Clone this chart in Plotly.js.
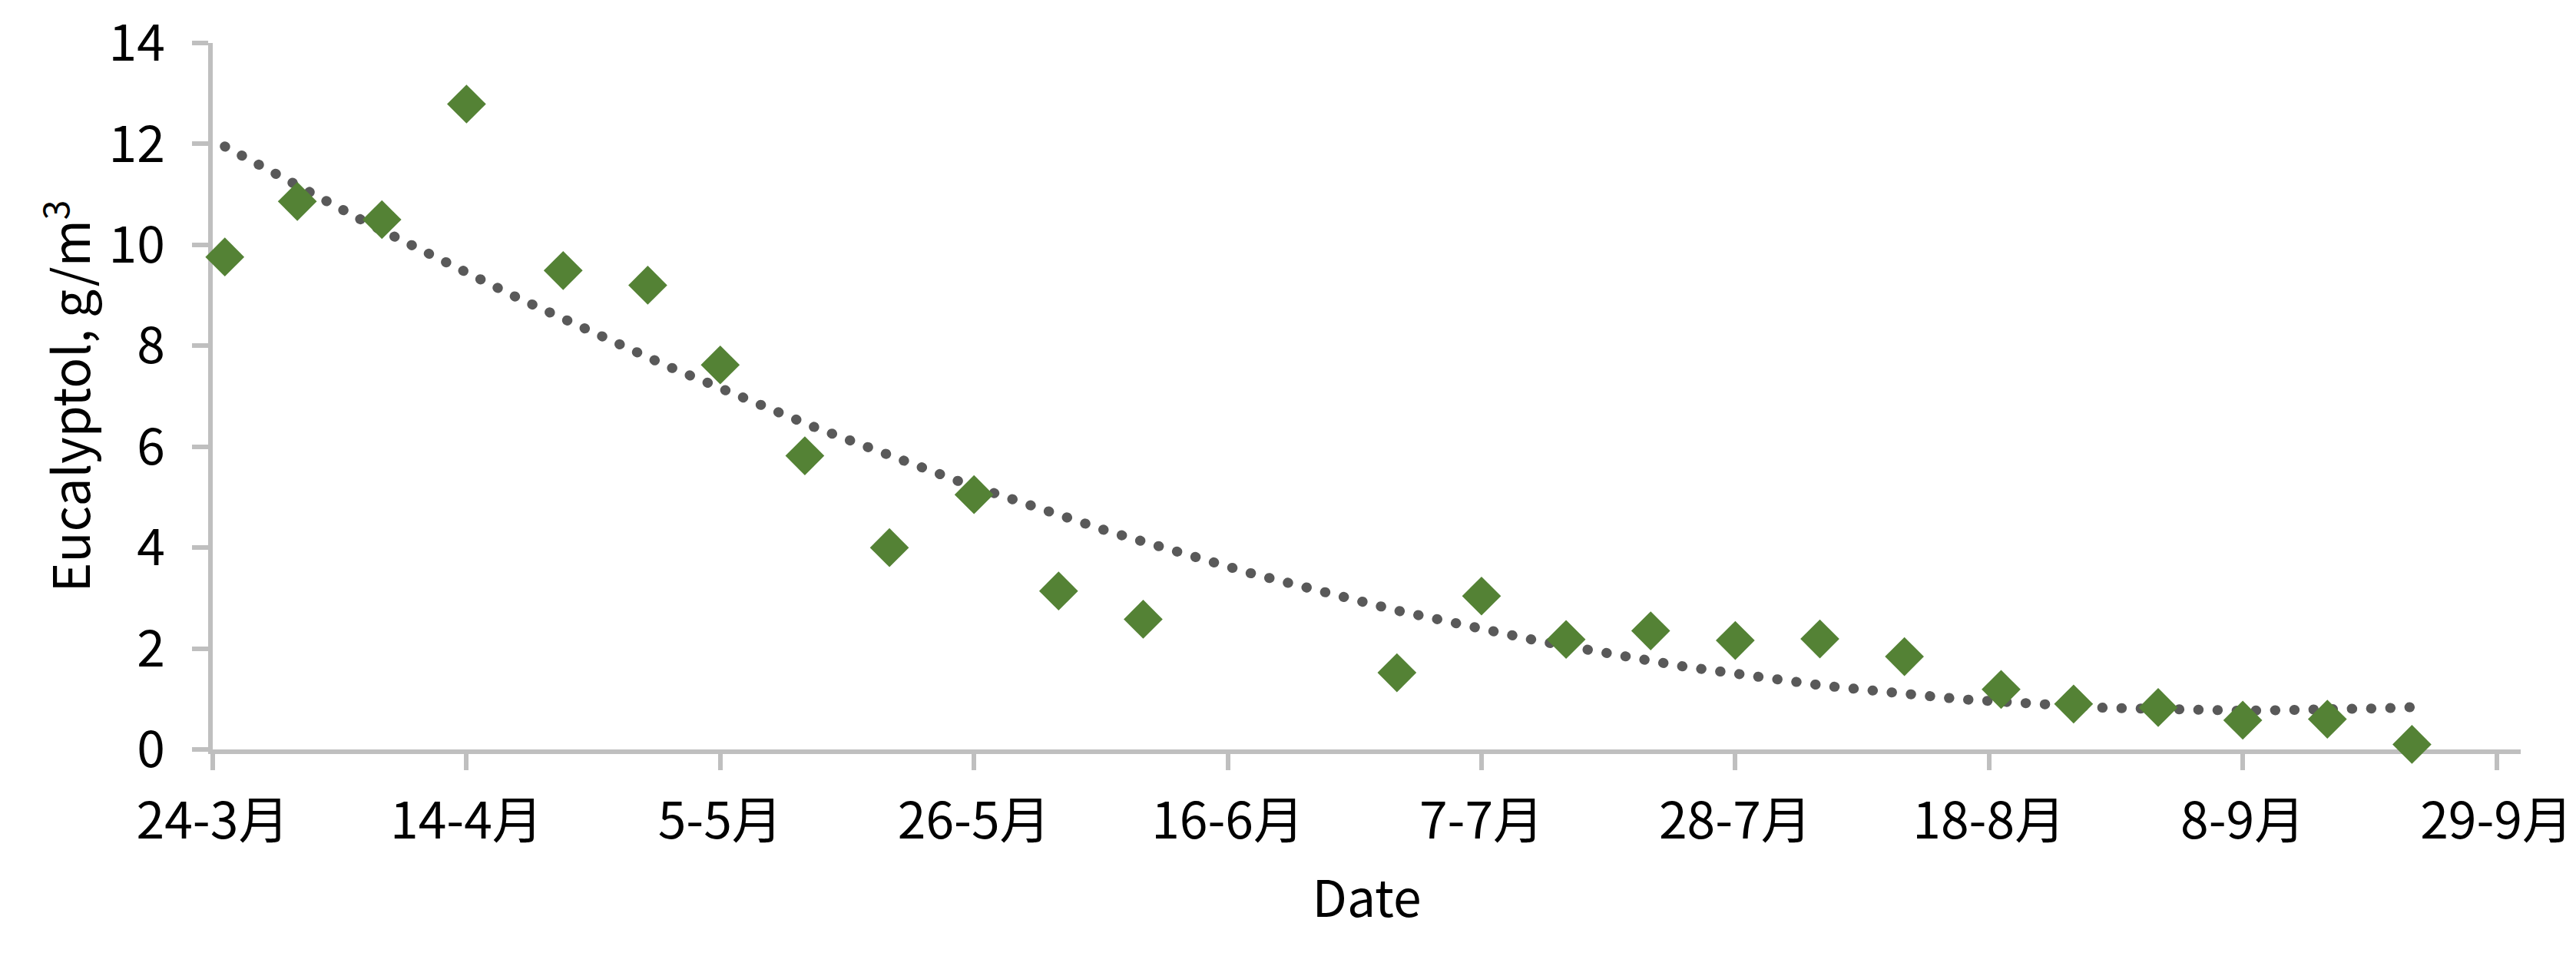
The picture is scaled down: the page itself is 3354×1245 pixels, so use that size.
<!DOCTYPE html>
<html>
<head>
<meta charset="utf-8">
<script src="https://cdn.plot.ly/plotly-3.0.1.min.js"></script>
<style>
  html, body { margin: 0; padding: 0; background: #ffffff; }
  #chart { width: 3354px; height: 1245px; }
  .trend .js-line { stroke-linecap: round !important; }
</style>
</head>
<body>
<div id="chart"></div>
<script>
// Sampling dates (2019) and measured eucalyptol concentration (g/m3)
const sampleDates = [
  '2019-03-25', '2019-03-31', '2019-04-07', '2019-04-14', '2019-04-22',
  '2019-04-29', '2019-05-05', '2019-05-12', '2019-05-19', '2019-05-26',
  '2019-06-02', '2019-06-09', '2019-06-30', '2019-07-07', '2019-07-14',
  '2019-07-21', '2019-07-28', '2019-08-04', '2019-08-11', '2019-08-19',
  '2019-08-25', '2019-09-01', '2019-09-08', '2019-09-15', '2019-09-22'
];
const eucalyptol = [
  9.76, 10.86, 10.50, 12.79, 9.49,
  9.20, 7.62, 5.82, 4.00, 5.05,
  3.14, 2.58, 1.52, 3.04, 2.18,
  2.35, 2.16, 2.19, 1.84, 1.19,
  0.90, 0.83, 0.58, 0.60, 0.10
];

// Axis settings
const xRange = ['2019-03-24', '2019-10-01'];
const xTick0 = '2019-03-24';
const xTickDays = 21;
const yRange = [0, 14];
const yTickStep = 2;

// Polynomial (order 2) trendline fitted to the data by least squares
const DAY = 86400000;
const t0 = Date.parse(sampleDates[0] + 'T00:00:00Z');
const tDays = sampleDates.map(d => (Date.parse(d + 'T00:00:00Z') - t0) / DAY);

function polyFit2(xs, ys) {
  let s = [0, 0, 0, 0, 0], r = [0, 0, 0];
  for (let i = 0; i < xs.length; i++) {
    let p = 1;
    for (let k = 0; k <= 4; k++) { s[k] += p; if (k <= 2) r[k] += p * ys[i]; p *= xs[i]; }
  }
  const A = [[s[0], s[1], s[2], r[0]], [s[1], s[2], s[3], r[1]], [s[2], s[3], s[4], r[2]]];
  for (let c = 0; c < 3; c++) {
    let piv = c;
    for (let rr = c + 1; rr < 3; rr++) if (Math.abs(A[rr][c]) > Math.abs(A[piv][c])) piv = rr;
    [A[c], A[piv]] = [A[piv], A[c]];
    for (let rr = 0; rr < 3; rr++) {
      if (rr === c) continue;
      const f = A[rr][c] / A[c][c];
      for (let k = c; k < 4; k++) A[rr][k] -= f * A[c][k];
    }
  }
  return [A[0][3] / A[0][0], A[1][3] / A[1][1], A[2][3] / A[2][2]];
}
const coef = polyFit2(tDays, eucalyptol);
const tMax = tDays[tDays.length - 1];
const trendX = [], trendY = [];
for (let i = 0; i <= 400; i++) {
  const t = tMax * i / 400;
  trendX.push(new Date(t0 + t * DAY).toISOString().slice(0, 19));
  trendY.push(coef[0] + coef[1] * t + coef[2] * t * t);
}

const FONT = '"Noto Sans CJK SC", "Noto Sans", sans-serif';
const AXIS_GREY = '#bfbfbf';

const traces = [
  {
    x: trendX, y: trendY,
    type: 'scatter', mode: 'lines',
    name: 'Poly. trend',
    line: { color: '#595959', width: 13, dash: '0.5px,24.5px' },
    cliponaxis: false,
    hoverinfo: 'skip',
    showlegend: false
  },
  {
    x: sampleDates, y: eucalyptol,
    type: 'scatter', mode: 'markers',
    name: 'Eucalyptol',
    marker: { symbol: 'diamond', size: 39, color: '#548235', line: { width: 0 } },
    cliponaxis: false,
    showlegend: false
  }
];

const layout = {
  width: 3354, height: 1245,
  paper_bgcolor: '#ffffff', plot_bgcolor: '#ffffff',
  margin: { l: 277, r: 72, t: 56, b: 269 },
  font: { family: FONT, size: 66, color: '#000000' },
  showlegend: false,
  xaxis: {
    type: 'date',
    range: xRange,
    tick0: xTick0,
    dtick: xTickDays * DAY,
    tickformat: '%-d-%-m月',
    ticks: 'outside', ticklen: 21, tickwidth: 6, tickcolor: AXIS_GREY,
    showline: true, linecolor: AXIS_GREY, linewidth: 6,
    showgrid: false, zeroline: false,
    layer: 'below traces',
    ticklabelstandoff: 10,
    tickfont: { family: FONT, size: 66, color: '#000000' },
    title: { text: 'Date', font: { family: FONT, size: 66, color: '#000000' }, standoff: 40 }
  },
  yaxis: {
    range: yRange,
    dtick: yTickStep,
    tick0: 0,
    ticks: 'outside', ticklen: 21, tickwidth: 6, tickcolor: AXIS_GREY,
    showline: true, linecolor: AXIS_GREY, linewidth: 6,
    showgrid: false, zeroline: false,
    layer: 'below traces',
    ticklabelstandoff: 22,
    tickfont: { family: FONT, size: 66, color: '#000000' },
    title: { text: 'Eucalyptol, g/m<sup>3</sup>', font: { family: FONT, size: 66, color: '#000000' }, standoff: 4 }
  }
};

Plotly.newPlot('chart', traces, layout, { displayModeBar: false, staticPlot: true }).then(() => {
  document.querySelectorAll('.scatterlayer .trace').forEach((g, i) => {
    if (i === 0) g.classList.add('trend');
  });
});
</script>
</body>
</html>
